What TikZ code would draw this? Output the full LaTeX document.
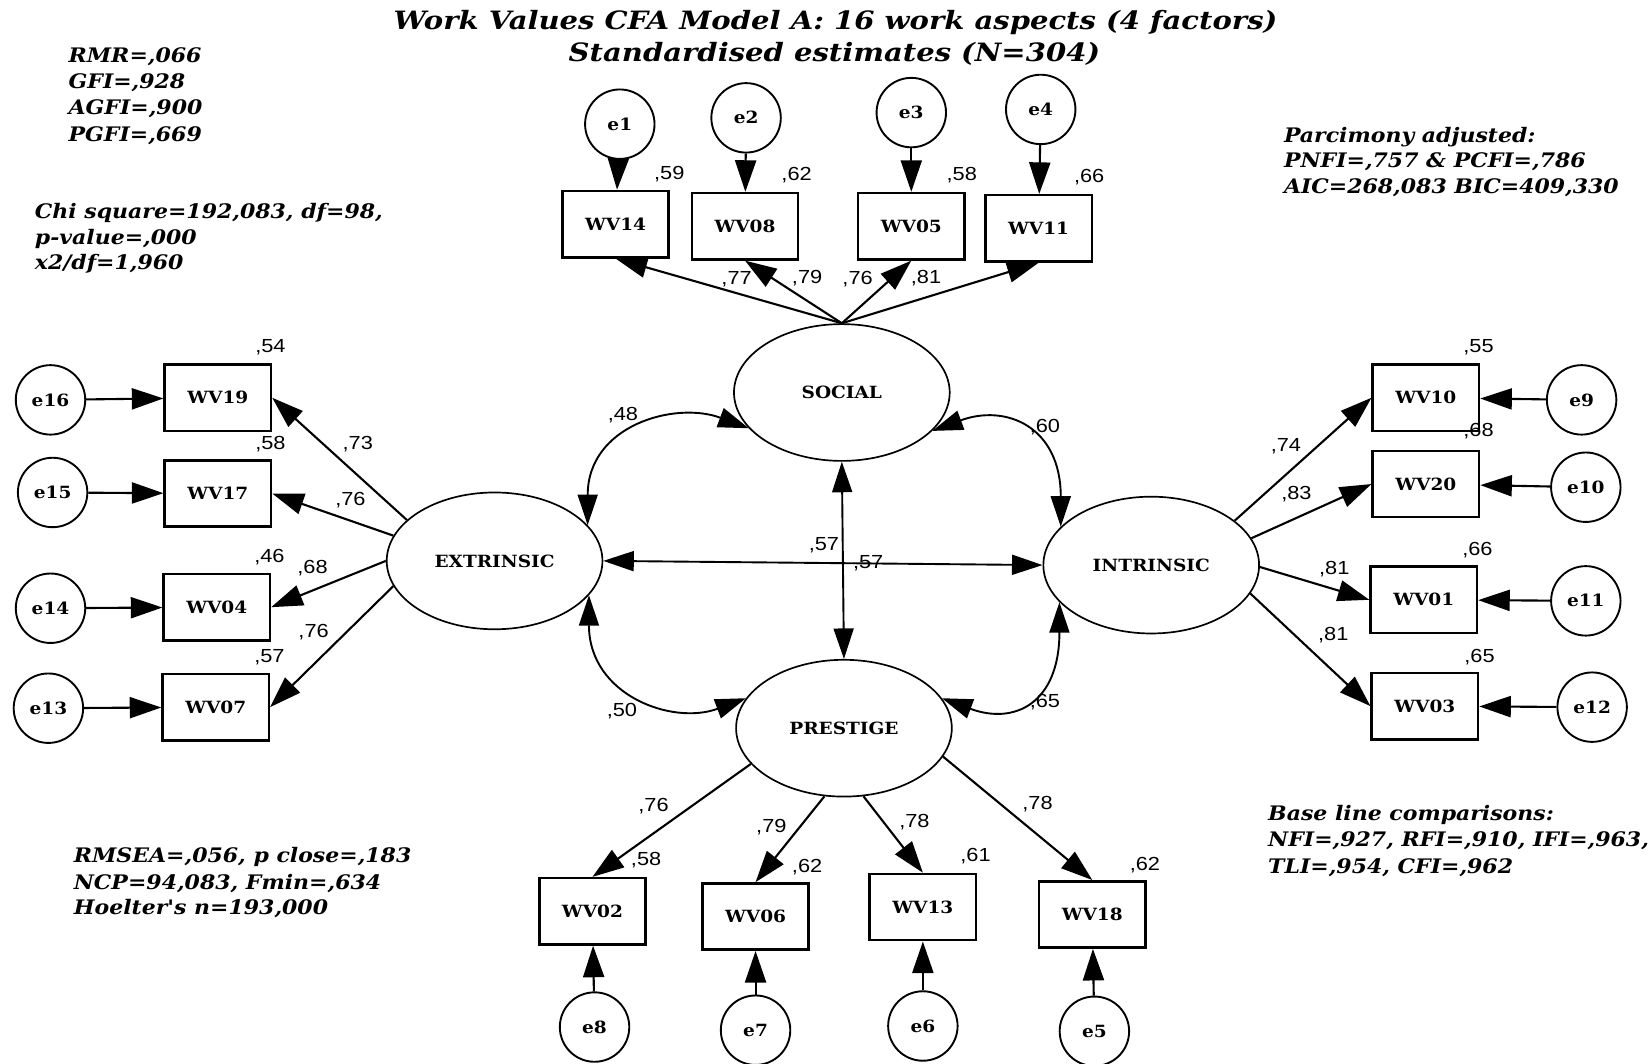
\documentclass[tikz,border=0pt]{standalone}
\usepackage{fontspec}
\setmainfont{DejaVu Serif}
\newfontfamily\boxfont[FakeStretch=1.1]{DejaVu Serif}
\newfontfamily\statfont[FakeStretch=1.1]{DejaVu Serif}
\newfontfamily\headfont[FakeStretch=1.15]{DejaVu Serif}
\newfontfamily\numfont[FakeStretch=1.15]{Liberation Sans}
\usetikzlibrary{arrows.meta,shapes.geometric}

\begin{document}
\begin{tikzpicture}[x=1pt,y=-1pt,
  obs/.style={draw, line width=2.4pt, minimum width=101pt, minimum height=63pt, inner sep=0pt,
              font=\boxfont\fontsize{16}{19}\selectfont\bfseries},
  err/.style={draw, circle, line width=1.8pt, minimum size=66pt, inner sep=0pt,
              font=\boxfont\fontsize{16}{19}\selectfont\bfseries},
  lat/.style={draw, ellipse, line width=1.6pt, minimum width=205pt, minimum height=130pt, inner sep=0pt,
              font=\boxfont\fontsize{16}{19}\selectfont\bfseries},
  load/.style={line width=2pt, -{Triangle[length=30pt,width=20pt]}},
  cov/.style={line width=1.8pt, {Triangle[length=29pt,width=19pt]}-{Triangle[length=29pt,width=19pt]}},
  est/.style={font=\numfont\fontsize{18}{20}\selectfont, inner sep=0pt},
  stat/.style={font=\statfont\fontsize{19}{22}\selectfont\bfseries\itshape, anchor=base west, inner sep=0pt},
  heading/.style={font=\headfont\fontsize{24}{28}\selectfont\bfseries\itshape, anchor=base, inner sep=0pt},
]
\fill[white] (0,0) rectangle (1568,1011);
\useasboundingbox (0,0) rectangle (1568,1011);

% ---- headings ----
\node[heading] (title1) at (794,28) {Work Values CFA Model A: 16 work aspects (4 factors)};
\node[heading] (title2) at (793,58) {Standardised estimates (N=304)};

% ---- fit statistics ----
\node[stat] (s1) at (65,59)  {RMR=,066};
\node[stat] (s2) at (65,84)  {GFI=,928};
\node[stat] (s3) at (65,109) {AGFI=,900};
\node[stat] (s4) at (65,134) {PGFI=,669};
\node[stat] (s5) at (33,208) {Chi square=192,083, df=98,};
\node[stat] (s6) at (33,232) {p-value=,000};
\node[stat] (s7) at (33,256) {x2/df=1,960};
\node[stat] (s8) at (1220,135) {Parcimony adjusted:};
\node[stat] (s9) at (1220,159) {PNFI=,757 \& PCFI=,786};
\node[stat] (s10) at (1220,184) {AIC=268,083 BIC=409,330};
\node[stat] (s11) at (70,820) {RMSEA=,056, p close=,183};
\node[stat] (s12) at (70,845) {NCP=94,083, Fmin=,634};
\node[stat] (s13) at (70,869) {Hoelter's n=193,000};
\node[stat] (s14) at (1205,780) {Base line comparisons:};
\node[stat] (s15) at (1205,804) {NFI=,927, RFI=,910, IFI=,963,};
\node[stat] (s16) at (1205,830) {TLI=,954, CFI=,962};

% ---- latent factors ----
\node[lat] (social) at (800,373) {SOCIAL};
\node[lat] (ext)    at (470,533) {EXTRINSIC};
\node[lat] (int)    at (1094,537) {INTRINSIC};
\node[lat] (pres)   at (802,692) {PRESTIGE};

% ---- observed items ----
\node[obs] (wv14) at (585,213) {WV14};
\node[obs] (wv08) at (708,215) {WV08};
\node[obs] (wv05) at (866,215) {WV05};
\node[obs] (wv11) at (987,217) {WV11};

\node[obs] (wv19) at (207,378) {WV19};
\node[obs] (wv17) at (207,469) {WV17};
\node[obs] (wv04) at (206,577) {WV04};
\node[obs] (wv07) at (205,672) {WV07};

\node[obs] (wv10) at (1355,378) {WV10};
\node[obs] (wv20) at (1355,460) {WV20};
\node[obs] (wv01) at (1353,570) {WV01};
\node[obs] (wv03) at (1354,671) {WV03};

\node[obs] (wv02) at (563,866) {WV02};
\node[obs] (wv06) at (718,871) {WV06};
\node[obs] (wv13) at (877,862) {WV13};
\node[obs] (wv18) at (1038,869) {WV18};

% ---- error terms ----
\node[err] (e1) at (589,118) {e1};
\node[err] (e2) at (709,112) {e2};
\node[err] (e3) at (866,107) {e3};
\node[err] (e4) at (989,104) {e4};

\node[err] (e16) at (48,380) {e16};
\node[err] (e15) at (50,468) {e15};
\node[err] (e14) at (48,578) {e14};
\node[err] (e13) at (46,673) {e13};

\node[err] (e9)  at (1503,380) {e9};
\node[err] (e10) at (1507,463) {e10};
\node[err] (e11) at (1507,571) {e11};
\node[err] (e12) at (1513,672) {e12};

\node[err] (e8) at (565,976) {e8};
\node[err] (e7) at (718,979) {e7};
\node[err] (e6) at (877,975) {e6};
\node[err] (e5) at (1040,980) {e5};

% ---- error paths ----
\foreach \e/\v in {e1/wv14,e2/wv08,e3/wv05,e4/wv11,
                   e16/wv19,e15/wv17,e14/wv04,e13/wv07,
                   e9/wv10,e10/wv20,e11/wv01,e12/wv03,
                   e8/wv02,e7/wv06,e6/wv13,e5/wv18}
  \draw[load] (\e) -- (\v);

% ---- factor loadings ----
\draw[load] (social.north) -- (wv14.south);
\draw[load] (social.north) -- (wv08.south);
\draw[load] (social.north) -- (wv05.south);
\draw[load] (social.north) -- (wv11.south);

\draw[load] (ext.155) -- (wv19.east);
\draw[load] (ext.166) -- (wv17.east);
\draw[load] (ext.180) -- (wv04.east);
\draw[load] (ext.194) -- (wv07.east);

\draw[load] (int.28)  -- (wv10.west);
\draw[load] (int.15)  -- (wv20.west);
\draw[load] (int.-1)  -- (wv01.west);
\draw[load] (int.-16) -- (wv03.west);

\draw[load] (pres.-159) -- (wv02.north);
\draw[load] (pres.-106) -- (wv06.north);
\draw[load] (pres.-74)  -- (wv13.north);
\draw[load] (pres.-16)  -- (wv18.north);

% ---- factor covariances ----
\draw[cov] (ext.21) .. controls +(0,-95) and +(-70,-26) .. (social.201);
\draw[cov] (social.-23) .. controls +(70,-26) and +(0,-95) .. (int.157);
\draw[cov] (ext.-20) .. controls +(0,95) and +(-70,26) .. (pres.163);
\draw[cov] (pres.17) .. controls +(70,26) and +(0,95) .. (int.-158);
\draw[cov] (ext.east) -- (int.west);
\draw[cov] (social.south) -- (pres.north);

% ---- estimates: squared multiple correlations ----
\node[est] (r14) at (636,165) {,59};
\node[est] (r08) at (757,166) {,62};
\node[est] (r05) at (914,166) {,58};
\node[est] (r11) at (1035,168) {,66};
\node[est] (r19) at (257,330) {,54};
\node[est] (r17) at (257,422) {,58};
\node[est] (r04) at (256,529) {,46};
\node[est] (r07) at (256,625) {,57};
\node[est] (r10) at (1405,330) {,55};
\node[est] (r20) at (1405,410) {,68};
\node[est] (r01) at (1404,523) {,66};
\node[est] (r03) at (1406,624) {,65};
\node[est] (r02) at (614,817) {,58};
\node[est] (r06) at (767,824) {,62};
\node[est] (r13) at (927,814) {,61};
\node[est] (r18) at (1088,822) {,62};

% ---- estimates: loadings ----
\node[est] (l14) at (700,265) {,77};
\node[est] (l08) at (767,264) {,79};
\node[est] (l05) at (815,265) {,76};
\node[est] (l11) at (880,264) {,81};
\node[est] (l19) at (340,422) {,73};
\node[est] (l17) at (333,475) {,76};
\node[est] (l04) at (297,540) {,68};
\node[est] (l07) at (298,601) {,76};
\node[est] (l10) at (1222,424) {,74};
\node[est] (l20) at (1232,470) {,83};
\node[est] (l01) at (1268,541) {,81};
\node[est] (l03) at (1267,604) {,81};
\node[est] (l02) at (621,766) {,76};
\node[est] (l06) at (733,786) {,79};
\node[est] (l13) at (869,781) {,78};
\node[est] (l18) at (986,764) {,78};

% ---- estimates: correlations ----
\node[est] (c48) at (592,394) {,48};
\node[est] (c60) at (993,406) {,60};
\node[est] (c50) at (591,676) {,50};
\node[est] (c65) at (993,667) {,65};
\node[est] (c57a) at (783,518) {,57};
\node[est] (c57b) at (825,535) {,57};
\end{tikzpicture}
\end{document}
